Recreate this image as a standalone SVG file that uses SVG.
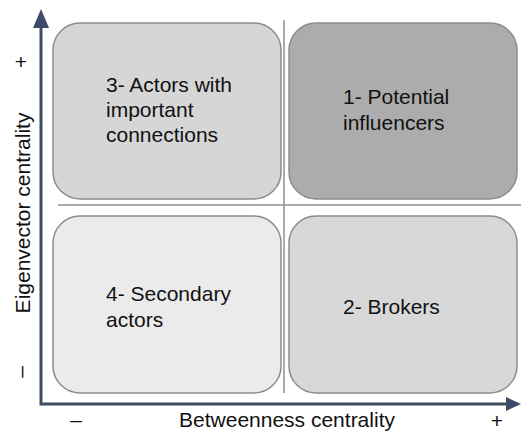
<svg xmlns="http://www.w3.org/2000/svg" width="521" height="431" viewBox="0 0 521 431">
<style>
text{font-family:"Liberation Sans",Arial,sans-serif;font-size:21px;fill:#111}
.box{stroke:#8c8c8c;stroke-width:1.5}
.div{stroke:#8f8f8f;stroke-width:1.5;fill:none}
.axis{stroke:#414d60;stroke-width:3;fill:none}
</style>
<rect width="521" height="431" fill="#fff"/>
<g id="connectors">
<line class="div" x1="284" y1="20" x2="284" y2="393"/>
<line class="div" x1="58" y1="205" x2="521" y2="205"/>
<polyline class="axis" points="41,24 41,404 510,404"/>
<polygon points="41,9 49,28 33,28" fill="#3e4a66"/>
<polygon points="521,404 506,397 506,411" fill="#3e4a66"/>
</g>
<g id="q3">
<rect class="box" x="53" y="23" width="228" height="176" rx="27" fill="#d6d6d6"/>
<text x="106" y="92">3- Actors with</text>
<text x="106" y="117">important</text>
<text x="106" y="142">connections</text>
</g>
<g id="q1">
<rect class="box" x="289" y="23" width="228" height="176" rx="27" fill="#acacac"/>
<text x="343" y="104">1- Potential</text>
<text x="343" y="130">influencers</text>
</g>
<g id="q4">
<rect class="box" x="53" y="216" width="228" height="177" rx="27" fill="#ebebeb"/>
<text x="106" y="301">4- Secondary</text>
<text x="106" y="327">actors</text>
</g>
<g id="q2">
<rect class="box" x="289" y="216" width="228" height="177" rx="27" fill="#d8d8d8"/>
<text x="343" y="314">2- Brokers</text>
</g>
<g id="labels">
<text x="287" y="427" text-anchor="middle">Betweenness centrality</text>
<text x="76" y="427" text-anchor="middle">–</text>
<text x="497" y="428" text-anchor="middle">+</text>
<text transform="translate(30,213) rotate(-90)" text-anchor="middle">Eigenvector centrality</text>
<text x="21" y="69" text-anchor="middle">+</text>
<text transform="translate(28,372) rotate(-90)" text-anchor="middle">–</text>
</g>
</svg>
